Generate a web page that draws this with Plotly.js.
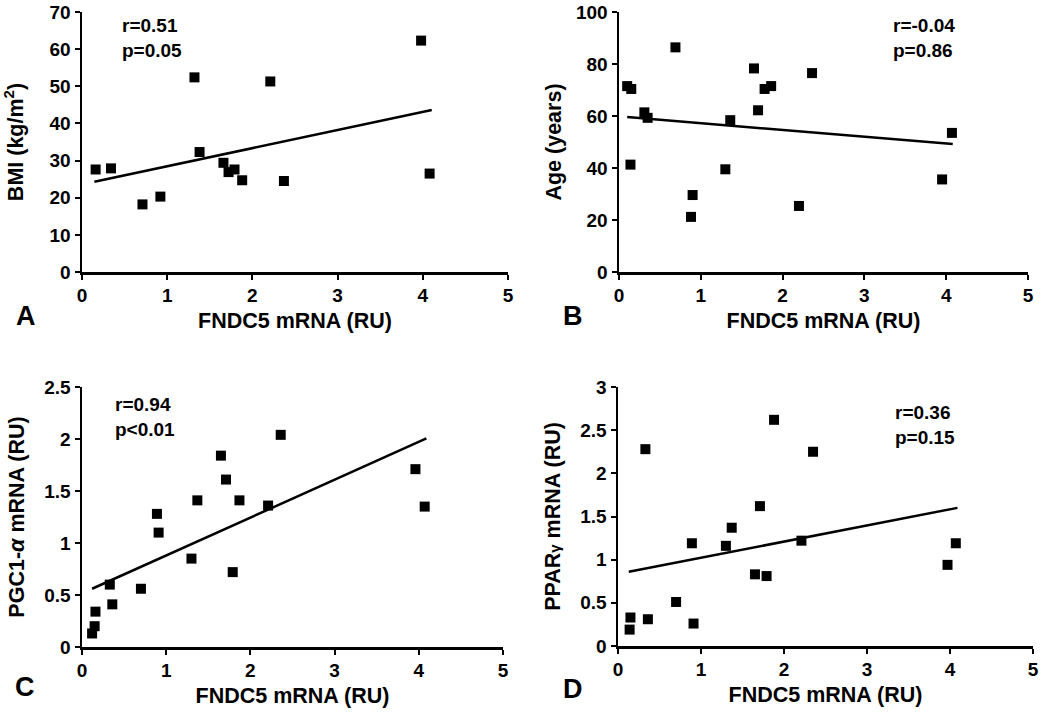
<!DOCTYPE html>
<html>
<head>
<meta charset="utf-8">
<script src="https://cdn.plot.ly/plotly-3.0.1.min.js"></script>
<style>html,body{margin:0;padding:0;background:#fff;}#chart{width:1050px;height:714px;}</style>
</head>
<body>
<div id="chart"></div>
<script>
// ---- Data ----
var xTicks = [0, 1, 2, 3, 4, 5];

// Panel A: BMI
var fndcA = [0.16, 0.34, 0.71, 0.92, 1.32, 1.38, 1.66, 1.72, 1.79, 1.88, 2.21, 2.37, 3.98, 4.08];
var bmiA  = [27.6, 27.9, 18.2, 20.3, 52.4, 32.3, 29.4, 26.9, 27.6, 24.7, 51.3, 24.5, 62.3, 26.5];
var trendAx = [0.145, 4.105];
var trendAy = [24.3, 43.6];

// Panel B: Age
var fndcB = [0.10, 0.15, 0.14, 0.31, 0.35, 0.69, 0.88, 0.90, 1.30, 1.36, 1.65, 1.70, 1.78, 1.86, 2.20, 2.36, 3.95, 4.07];
var ageB  = [71.5, 70.4, 41.3, 61.4, 59.3, 86.4, 21.2, 29.6, 39.5, 58.4, 78.3, 62.2, 70.4, 71.5, 25.4, 76.5, 35.6, 53.5];
var trendBx = [0.10, 4.08];
var trendBy = [59.6, 49.2];

// Panel C: PGC1-alpha
var fndcC = [0.12, 0.15, 0.16, 0.33, 0.36, 0.70, 0.89, 0.91, 1.30, 1.37, 1.65, 1.71, 1.79, 1.87, 2.21, 2.36, 3.96, 4.07];
var pgcC  = [0.13, 0.20, 0.34, 0.60, 0.41, 0.56, 1.28, 1.10, 0.85, 1.41, 1.84, 1.61, 0.72, 1.41, 1.36, 2.04, 1.71, 1.35];
var trendCx = [0.12, 4.09];
var trendCy = [0.56, 2.005];

// Panel D: PPAR-gamma
var fndcD = [0.14, 0.15, 0.33, 0.36, 0.70, 0.89, 0.91, 1.30, 1.37, 1.65, 1.71, 1.79, 1.88, 2.21, 2.35, 3.97, 4.07];
var pparD = [0.19, 0.33, 2.28, 0.31, 0.51, 1.19, 0.26, 1.16, 1.37, 0.83, 1.62, 0.81, 2.62, 1.22, 2.25, 0.94, 1.19];
var trendDx = [0.13, 4.09];
var trendDy = [0.86, 1.60];

var statsA = ["r=0.51", "p=0.05"];
var statsB = ["r=-0.04", "p=0.86"];
var statsC = ["r=0.94", "p<0.01"];
var statsD = ["r=0.36", "p=0.15"];

// ---- Styling ----
var W = 1050, H = 714;
function px(x) { return x / W; }
function py(y) { return 1 - y / H; }

var FONT = "Liberation Sans, Arial, Helvetica, sans-serif";
var markerStyle = {symbol: "square", size: 10, color: "#000"};
var lineStyle = {color: "#000", width: 2.5};

function pts(x, y, xa, ya) {
  return {x: x, y: y, xaxis: xa, yaxis: ya, type: "scatter", mode: "markers",
          marker: markerStyle, hoverinfo: "x+y", showlegend: false};
}
function trend(x, y, xa, ya) {
  return {x: x, y: y, xaxis: xa, yaxis: ya, type: "scatter", mode: "lines",
          line: lineStyle, hoverinfo: "skip", showlegend: false};
}

var data = [
  pts(fndcA, bmiA, "x", "y"),   trend(trendAx, trendAy, "x", "y"),
  pts(fndcB, ageB, "x2", "y2"), trend(trendBx, trendBy, "x2", "y2"),
  pts(fndcC, pgcC, "x3", "y3"), trend(trendCx, trendCy, "x3", "y3"),
  pts(fndcD, pparD, "x4", "y4"), trend(trendDx, trendDy, "x4", "y4")
];

var tickFont = {family: FONT, size: 19, color: "#000", weight: "bold"};
var titleFont = {family: FONT, size: 21.5, color: "#000", weight: "bold"};

function xAxis(domain, anchor) {
  return {
    domain: domain, anchor: anchor, range: [0, 5], tickvals: xTicks,
    showgrid: false, zeroline: false, showline: true, linecolor: "#000", linewidth: 2.5,
    ticks: "outside", ticklen: 5, tickwidth: 2, tickcolor: "#000",
    tickfont: tickFont, automargin: false, fixedrange: true,
    title: {text: "FNDC5 mRNA (RU)", font: titleFont, standoff: 8}
  };
}
function yAxis(domain, anchor, range, dtick, title, standoff) {
  return {
    domain: domain, anchor: anchor, range: range, dtick: dtick, tick0: 0,
    showgrid: false, zeroline: false, showline: true, linecolor: "#000", linewidth: 2.5,
    ticks: "outside", ticklen: 5, tickwidth: 2, tickcolor: "#000",
    tickfont: tickFont, automargin: false, fixedrange: true,
    title: {text: title, font: titleFont, standoff: standoff}
  };
}

function stats(lines, x, y, xanchor, align) {
  return {xref: "paper", yref: "paper", x: x, y: y, xanchor: xanchor, yanchor: "top",
          align: align, showarrow: false, text: lines.join("<br>"),
          font: {family: FONT, size: 19, color: "#000", weight: "bold"}};
}
function letter(t, x, y) {
  return {xref: "paper", yref: "paper", x: x, y: y, xanchor: "center", yanchor: "middle",
          showarrow: false, text: t, font: {family: FONT, size: 27, color: "#000", weight: "bold"}};
}

var layout = {
  width: W, height: H,
  margin: {l: 0, r: 0, t: 0, b: 0},
  paper_bgcolor: "#fff", plot_bgcolor: "#fff",
  showlegend: false,
  font: {family: FONT, color: "#000"},
  xaxis:  xAxis([px(82), px(508)], "y"),
  yaxis:  yAxis([py(272), py(12)], "x", [0, 70], 10, "BMI (kg/m<sup>2</sup>)", 24),
  xaxis2: xAxis([px(619), px(1028)], "y2"),
  yaxis2: yAxis([py(272), py(12)], "x2", [0, 100], 20, "Age (years)", 9),
  xaxis3: xAxis([px(82), px(503)], "y3"),
  yaxis3: yAxis([py(647), py(387)], "x3", [0, 2.5], 0.5, "PGC1-<i>α</i> mRNA (RU)", 14),
  xaxis4: xAxis([px(618), px(1033)], "y4"),
  yaxis4: yAxis([py(646), py(387)], "x4", [0, 3], 0.5, "PPAR<span style='font-size:15px'>γ</span> mRNA (RU)", 14),
  annotations: [
    stats(statsA, px(120), py(13), "left", "left"),
    stats(statsB, px(957), py(13), "right", "left"),
    stats(statsC, px(113), py(392), "left", "left"),
    stats(statsD, px(957), py(400), "right", "left"),
    letter("A", px(26), py(316)),
    letter("B", px(573), py(316)),
    letter("C", px(25), py(687)),
    letter("D", px(573), py(689))
  ]
};

Plotly.newPlot("chart", data, layout, {displayModeBar: false, staticPlot: true});
</script>
</body>
</html>
